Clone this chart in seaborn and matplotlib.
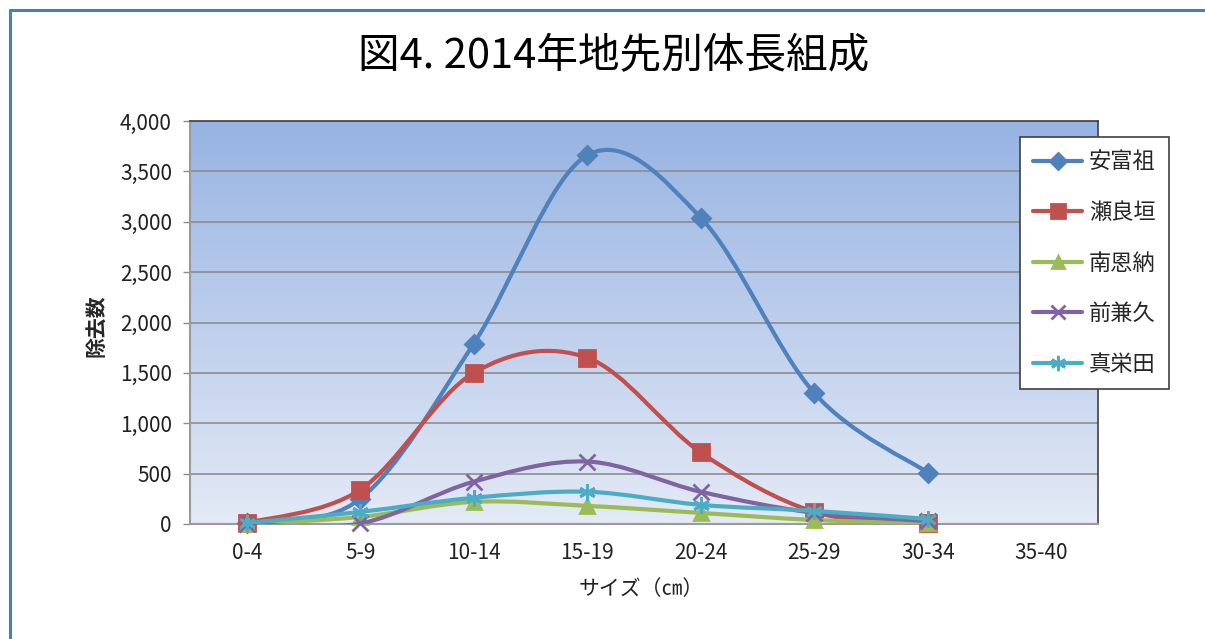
import numpy as np
import pandas as pd
import seaborn as sns
import matplotlib.pyplot as plt
from matplotlib.path import Path
from matplotlib.patches import PathPatch
from matplotlib.lines import Line2D
from matplotlib.colors import LinearSegmentedColormap
from matplotlib.ticker import FuncFormatter

# size classes (cm)
sizes = ['0-4', '5-9', '10-14', '15-19', '20-24', '25-29', '30-34', '35-40']

# removal counts per site (35-40 has no data)
afuso = [10, 250, 1790, 3660, 3040, 1300, 510]
serakaki = [10, 340, 1500, 1650, 710, 120, 5]
minnna = [0, 70, 220, 180, 110, 40, 10]
maekaneku = [0, 5, 420, 620, 320, 110, 30]
maeda = [10, 120, 260, 320, 190, 130, 50]

sites = ['安富祖', '瀬良垣', '南恩納', '前兼久', '真栄田']
series = [afuso, serakaki, minnna, maekaneku, maeda]
colors = ['#4F81BD', '#C0504D', '#9BBB59', '#8064A2', '#4BACC6']
markers = ['D', 's', '^', 'x', (6, 2, 0)]
msizes = [9, 11, 10, 11, 12]


def smooth_path(xs, ys):
    # Excel-like smoothed line: Catmull-Rom segments as cubic Bezier
    pts = np.column_stack([xs, ys]).astype(float)
    n = len(pts)
    verts = [pts[0]]
    codes = [Path.MOVETO]
    for i in range(n - 1):
        p0 = pts[max(i - 1, 0)]
        p1 = pts[i]
        p2 = pts[i + 1]
        p3 = pts[min(i + 2, n - 1)]
        verts += [p1 + (p2 - p0) / 6, p2 - (p3 - p1) / 6, p2]
        codes += [Path.CURVE4] * 3
    return Path(verts, codes)


sns.set_style('white')
plt.rcParams['font.family'] = ['Noto Sans CJK JP', 'DejaVu Sans']

fig = plt.figure(figsize=(12.05, 6.39), dpi=100)
ax = fig.add_axes([190 / 1205, 1 - 524 / 639, 908 / 1205, 403 / 639])

# gradient plot area
cmap = LinearSegmentedColormap.from_list('bg', ['#E4EAF6', '#97B3E2'])
grad = np.linspace(0, 1, 256).reshape(-1, 1)
ax.imshow(grad, cmap=cmap, aspect='auto', extent=[0, 1, 0, 1],
          origin='lower', transform=ax.transAxes, zorder=0)

ax.set_xlim(-0.5, len(sizes) - 0.5)
ax.set_ylim(0, 4000)
ax.set_yticks(np.arange(0, 4001, 500))
ax.yaxis.set_major_formatter(FuncFormatter(lambda v, p: f'{int(v):,}'))
ax.set_xticks(range(len(sizes)))
ax.set_xticklabels(sizes)
ax.grid(axis='y', color='#8C8C8C', lw=1.2, zorder=1)
ax.grid(axis='x', visible=False)
ax.tick_params(axis='y', length=5, width=1, color='#8C8C8C', pad=8,
               labelsize=15, left=True, labelcolor='#222222')
ax.tick_params(axis='x', length=0, pad=13, labelsize=15, labelcolor='#222222')

for side in ['left', 'bottom']:
    ax.spines[side].set_color('#9A9A9A')
    ax.spines[side].set_linewidth(1.5)
for side in ['top', 'right']:
    ax.spines[side].set_color('#404040')
    ax.spines[side].set_linewidth(1.2)

handles = []
for name, vals, c, m, ms in zip(sites, series, colors, markers, msizes):
    xs = np.arange(len(vals))
    path = smooth_path(xs, vals)
    ax.add_patch(PathPatch(path, facecolor='none', edgecolor=c, lw=3,
                           capstyle='round', joinstyle='round', zorder=3))
    ax.plot(xs, vals, linestyle='none', marker=m, markersize=ms, color=c,
            markeredgecolor=c, markeredgewidth=2, zorder=3, clip_on=False)
    handles.append(Line2D([], [], color=c, lw=3, marker=m, markersize=ms - 1,
                          markeredgecolor=c, markeredgewidth=2))

leg = fig.legend(handles, sites, loc='upper left',
                 bbox_to_anchor=(1020 / 1205, 1 - 137 / 639),
                 bbox_transform=fig.transFigure, fontsize=16,
                 labelspacing=1.24, handlelength=2.2, handletextpad=0.3,
                 borderpad=0.6, borderaxespad=0, fancybox=False,
                 framealpha=1)
leg.get_frame().set_edgecolor('#404040')
leg.get_frame().set_linewidth(1.2)

fig.text(0.509, 1 - 57 / 639, '図4. 2014年地先別体長組成', fontsize=30,
         ha='center', va='center', color='black')
fig.text(97 / 1205, 1 - 326 / 639, '除去数', fontsize=15, fontweight='bold',
         rotation=90, ha='center', va='center')
fig.text(641 / 1205, 1 - 589 / 639, 'サイズ（㎝）', fontsize=15,
         ha='center', va='center', color='#222222')

# outer chart border
border = '#4A7EBB'
fig.add_artist(Line2D([10 / 1205, 1], [1 - 10 / 639, 1 - 10 / 639],
                      transform=fig.transFigure, color=border, lw=2.2))
fig.add_artist(Line2D([10 / 1205, 10 / 1205], [0, 1 - 10 / 639],
                      transform=fig.transFigure, color=border, lw=2.2))

fig.savefig('out.png', dpi=100)
